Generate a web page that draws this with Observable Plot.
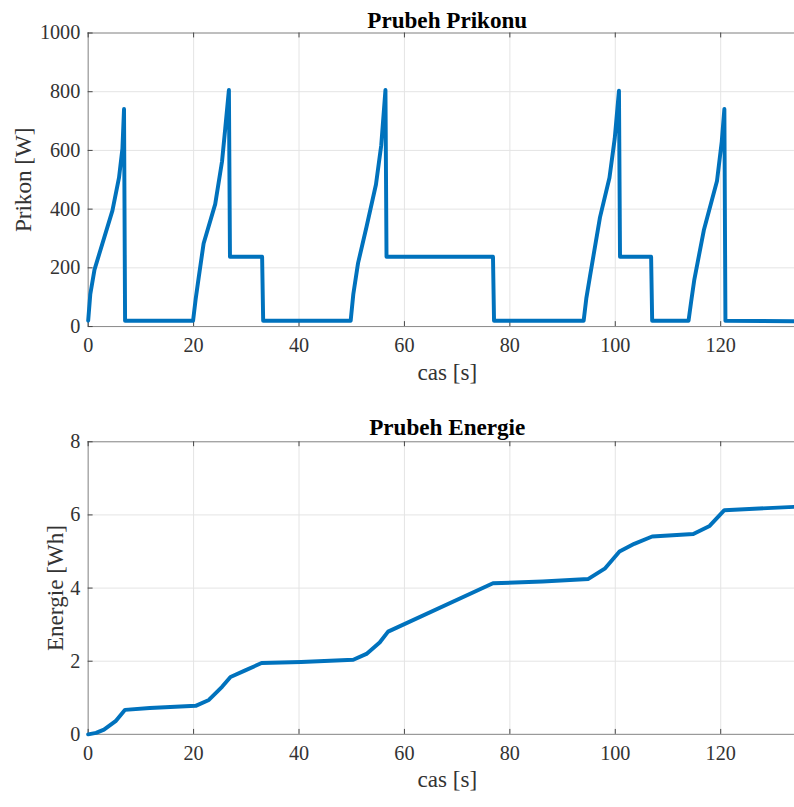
<!DOCTYPE html>
<html><head><meta charset="utf-8">
<script src="https://cdn.jsdelivr.net/npm/d3@7"></script>
<script src="https://cdn.jsdelivr.net/npm/@observablehq/plot@0.6"></script>
<style>
body{margin:0;background:#fff;overflow:hidden}
#wrap{width:794px;height:807px;overflow:hidden;position:relative;background:#fff}
#wrap svg{display:block}
#wrap svg text{font-family:"Liberation Serif","Times New Roman",serif}
</style></head><body><div id="wrap"></div>
<script>
// Tick values
const xTicks = [0, 20, 40, 60, 80, 100, 120];
const powerTicks = [0, 200, 400, 600, 800, 1000];
const energyTicks = [0, 2, 4, 6, 8];

// Texts
const powerTitle = "Prubeh Prikonu";
const energyTitle = "Prubeh Energie";
const xLabel = "cas [s]";
const powerLabel = "Prikon [W]";
const energyLabel = "Energie [Wh]";

// Power trace
const powerTime  = [0, 0.4, 1.2, 4.6, 5.85, 6.5, 6.8, 7.0, 19.9, 20.4, 21.0, 21.9, 24.1, 25.4, 26.0, 26.7, 26.9, 33.0, 33.2, 49.8, 50.3, 51.2, 52.8, 54.6, 55.6, 56.4, 56.6, 76.8, 77.0, 94.0, 94.5, 95.2, 97.1, 98.9, 99.9, 100.7, 100.9, 106.8, 107.0, 113.9, 114.4, 115.0, 116.8, 119.3, 120.2, 120.7, 120.9, 134];
const powerWatts = [20, 110, 194, 395, 507, 607, 741, 20, 20, 95, 171, 283, 417, 563, 674, 806, 238, 238, 20, 20, 110, 216, 339, 484, 618, 806, 238, 238, 20, 20, 95, 171, 372, 507, 641, 803, 238, 238, 20, 20, 85, 160, 328, 496, 630, 741, 20, 18];

// Energy trace
const energyTime = [0, 1.5, 3.0, 5.2, 7.0, 11.7, 20.4, 22.9, 25.4, 27.0, 29.8, 32.9, 40.4, 50.3, 52.8, 55.3, 56.9, 76.8, 86.2, 94.9, 98.0, 100.8, 103.6, 107.0, 114.8, 117.9, 120.7, 134];
const energyWh   = [0, 0.04, 0.13, 0.36, 0.67, 0.72, 0.78, 0.94, 1.30, 1.57, 1.75, 1.95, 1.98, 2.04, 2.20, 2.51, 2.81, 4.13, 4.18, 4.25, 4.53, 5.00, 5.21, 5.41, 5.48, 5.70, 6.13, 6.22];

const FONT = "Liberation Serif";
const BLUE = "#0072BD";
const AXIS = "#8a8a8a";
const GRID = "#e4e4e4";
const TEXT = "#333";

function panel({title, ylabel, yTicks, times, values, height, marginTop, marginBottom, titleDy, xLabelDy, yLabelDx}) {
  const data = times.map((t, i) => ({t, v: values[i]}));
  const W = 806, ML = 89, MR = 0;
  const plotH = height - marginTop - marginBottom;
  const plotW = W - ML - MR;
  const yDomain = [yTicks[0], yTicks[yTicks.length - 1]];
  return Plot.plot({
    width: W, height, marginLeft: ML, marginRight: MR, marginTop, marginBottom,
    style: {fontFamily: FONT, fontSize: "20.5px", color: TEXT, background: "white"},
    x: {domain: [0, 134], label: null, axis: null},
    y: {domain: yDomain, label: null, axis: null},
    marks: [
      Plot.gridX(xTicks, {stroke: GRID, strokeOpacity: 1}),
      Plot.gridY(yTicks, {stroke: GRID, strokeOpacity: 1}),
      Plot.ruleY(yDomain, {stroke: AXIS}),
      Plot.ruleX([0], {stroke: AXIS}),
      Plot.tickX(xTicks, {x: d => d, insetTop: plotH - 5, stroke: "#444"}),
      Plot.tickX(xTicks, {x: d => d, insetBottom: plotH - 5, stroke: "#444"}),
      Plot.tickY(yTicks, {y: d => d, insetRight: plotW - 5, stroke: "#444"}),
      Plot.text(xTicks, {x: d => d, text: d => String(d), frameAnchor: "bottom", lineAnchor: "middle", textAnchor: "middle", dy: 19, fontFamily: FONT, fontSize: 20.5, fill: TEXT}),
      Plot.text(yTicks, {y: d => d, text: d => String(d), frameAnchor: "left", lineAnchor: "middle", textAnchor: "end", dx: -8, fontFamily: FONT, fontSize: 20.5, fill: TEXT}),
      Plot.line(data, {x: "t", y: "v", stroke: BLUE, strokeWidth: 4, strokeLinejoin: "round", strokeLinecap: "round"}),
      Plot.text([title], {frameAnchor: "top", lineAnchor: "middle", textAnchor: "middle", dy: titleDy, dx: 6, fontFamily: FONT, fontWeight: "bold", fontSize: 23.5, fill: "#000"}),
      Plot.text([xLabel], {frameAnchor: "bottom", lineAnchor: "middle", textAnchor: "middle", dy: xLabelDy, dx: 6, fontFamily: FONT, fontSize: 23.5, fill: TEXT}),
      Plot.text([ylabel], {frameAnchor: "left", lineAnchor: "middle", textAnchor: "middle", dx: yLabelDx, rotate: -90, fontFamily: FONT, fontSize: 23.5, fill: TEXT})
    ]
  });
}

const wrap = document.getElementById("wrap");
wrap.appendChild(panel({
  title: powerTitle, ylabel: powerLabel, yTicks: powerTicks,
  times: powerTime, values: powerWatts,
  height: 400, marginTop: 33, marginBottom: 69,
  titleDy: -13, xLabelDy: 47, yLabelDx: -66
}));
wrap.appendChild(panel({
  title: energyTitle, ylabel: energyLabel, yTicks: energyTicks,
  times: energyTime, values: energyWh,
  height: 407, marginTop: 48, marginBottom: 62,
  titleDy: -14, xLabelDy: 46, yLabelDx: -33
}));
</script>
</body></html>
